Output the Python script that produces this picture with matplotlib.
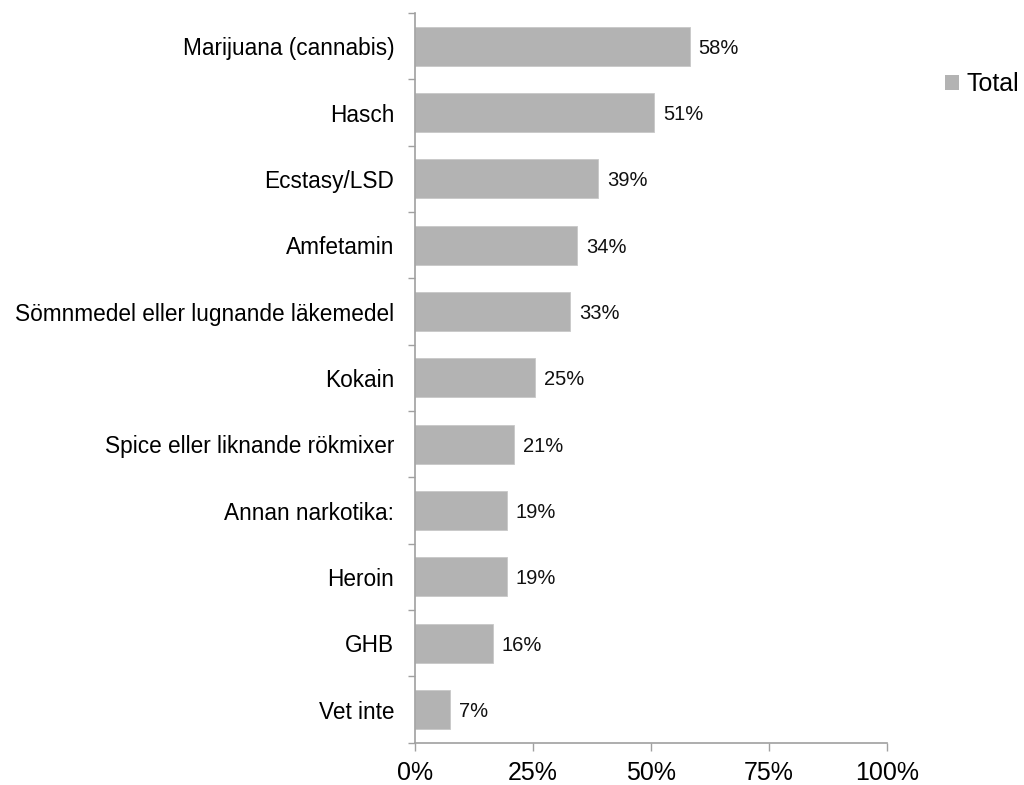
import numpy as np
import matplotlib.pyplot as plt
from matplotlib.patches import Patch

plt.rcParams['font.family'] = ['Liberation Sans', 'DejaVu Sans']

# data (top to bottom)
categories = ['Marijuana (cannabis)', 'Hasch', 'Ecstasy/LSD', 'Amfetamin',
              'Sömnmedel eller lugnande läkemedel', 'Kokain',
              'Spice eller liknande rökmixer', 'Annan narkotika:', 'Heroin',
              'GHB', 'Vet inte']
values = [58.2, 50.7, 38.8, 34.3, 32.9, 25.4, 20.9, 19.4, 19.4, 16.5, 7.5]
labels = ['58%', '51%', '39%', '34%', '33%', '25%', '21%', '19%', '19%', '16%', '7%']
xticks = [0, 25, 50, 75, 100]
xticklabels = ['0%', '25%', '50%', '75%', '100%']

bar_col = '#b3b3b3'
axis_col = '#a0a0a0'

fig = plt.figure(figsize=(10.24, 7.85), dpi=100)
ax = fig.add_axes([0.4053, 0.0539, 0.8660 - 0.4053, 0.9834 - 0.0539])

n = len(categories)
y = np.arange(n)
bars = ax.barh(y, values, height=0.59, color=bar_col, edgecolor='#c8c8c8', linewidth=0.6)
ax.set_ylim(n - 0.5, -0.5)
ax.set_xlim(0, 100)

# value labels
for yi, v, lab in zip(y, values, labels):
    ax.annotate(lab, (v, yi), xytext=(6.5, -1.5), textcoords='offset points',
                va='center', ha='left', fontsize=14.5, color='#111111')

# axes styling
for s in ['top', 'right']:
    ax.spines[s].set_visible(False)
ax.spines['left'].set_color(axis_col)
ax.spines['bottom'].set_color(axis_col)
ax.spines['left'].set_linewidth(1.2)
ax.spines['bottom'].set_linewidth(1.2)

ax.set_yticks(y)
ax.set_yticklabels(categories, fontsize=16.3)
ax.set_yticks(np.arange(-0.5, n, 1), minor=True)
ax.tick_params(axis='y', which='major', length=0, pad=15)
ax.tick_params(axis='y', which='minor', length=5, width=1, color=axis_col, direction='out')

ax.set_xticks(xticks)
ax.set_xticklabels(xticklabels, fontsize=18)
ax.tick_params(axis='x', length=6, width=1, color=axis_col, direction='out', pad=7)

# legend
handle = Patch(facecolor=bar_col, edgecolor='none', label='Total')
fig.legend(handles=[handle], loc='center left', bbox_to_anchor=(0.923, 0.893),
           frameon=False, fontsize=18, handlelength=0.55, handleheight=0.55,
           handletextpad=0.32, borderpad=0, borderaxespad=0)

fig.savefig('out.png', dpi=100)
